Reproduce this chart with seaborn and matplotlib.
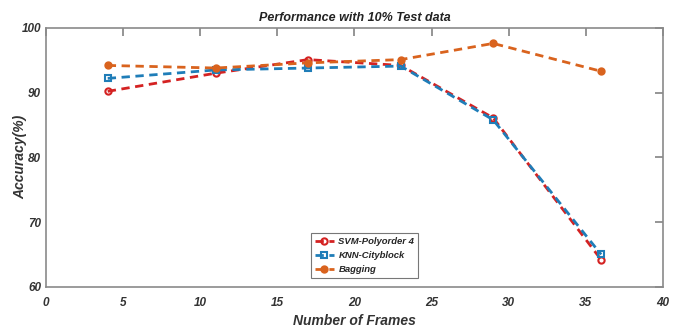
import matplotlib
matplotlib.use("Agg")
import matplotlib.pyplot as plt
import seaborn as sns
import pandas as pd

frames = [4, 11, 17, 23, 29, 36]
svm = [90.2, 93.0, 95.1, 94.2, 86.1, 64.2]
knn = [92.2, 93.5, 93.8, 94.1, 85.8, 65.0]
bagging = [94.2, 93.8, 94.6, 95.1, 97.6, 93.3]
names = ["SVM-Polyorder 4", "KNN-Cityblock", "Bagging"]

sns.set_theme(style="white")
plt.rcParams['font.family'] = ['Liberation Sans Narrow', 'Liberation Sans', 'DejaVu Sans']

fig = plt.figure(figsize=(6.77, 3.32), dpi=100)
ax = fig.add_axes([0.068, 0.136, 0.911, 0.780])

colors = ["#D42222", "#1F7DB8", "#D9631E"]
markers = ["o", "s", "o"]
faces = ["none", "none", "#D9631E"]
for vals, name, c, m, f in zip([svm, knn, bagging], names, colors, markers, faces):
    df = pd.DataFrame({"x": frames, "y": vals})
    sns.lineplot(data=df, x="x", y="y", ax=ax, color=c, linestyle=(0, (3, 2)),
                 linewidth=2, marker=m, markersize=4.5, markerfacecolor=f,
                 markeredgecolor=c, markeredgewidth=1.5, label=name)

ax.set_xlim(0, 40)
ax.set_ylim(60, 100)
ax.set_xticks(range(0, 41, 5))
ax.set_yticks(range(60, 101, 10))
ax.tick_params(direction="in", length=6, color="#888888", labelsize=8.5,
               labelcolor="#333333", top=True, right=True)
ax.tick_params(axis="x", pad=7)
for lab in ax.get_xticklabels() + ax.get_yticklabels():
    lab.set_fontstyle("italic")
    lab.set_fontweight("bold")
for s in ax.spines.values():
    s.set_color("#8a8a8a")
    s.set_linewidth(1.2)

ax.set_xlabel("Number of Frames", fontsize=10, fontstyle="italic", fontweight="bold", color="#333333", labelpad=4)
ax.set_ylabel("Accuracy(%)", fontsize=10, fontstyle="italic", fontweight="bold", color="#333333")
ax.yaxis.set_label_coords(-0.031, 0.5)
ax.set_title("Performance with 10% Test data", fontsize=9, fontstyle="italic", fontweight="bold", color="#222222", pad=5)

leg = ax.legend(loc="lower left", bbox_to_anchor=(0.422, 0.015), frameon=True,
                fancybox=False, edgecolor="#555555", handlelength=2.0, borderpad=0.4,
                labelspacing=0.55, handletextpad=0.5,
                prop={"style": "italic", "weight": "bold", "size": 6.8})
leg.get_frame().set_linewidth(0.8)

fig.savefig("out.png", dpi=100)
